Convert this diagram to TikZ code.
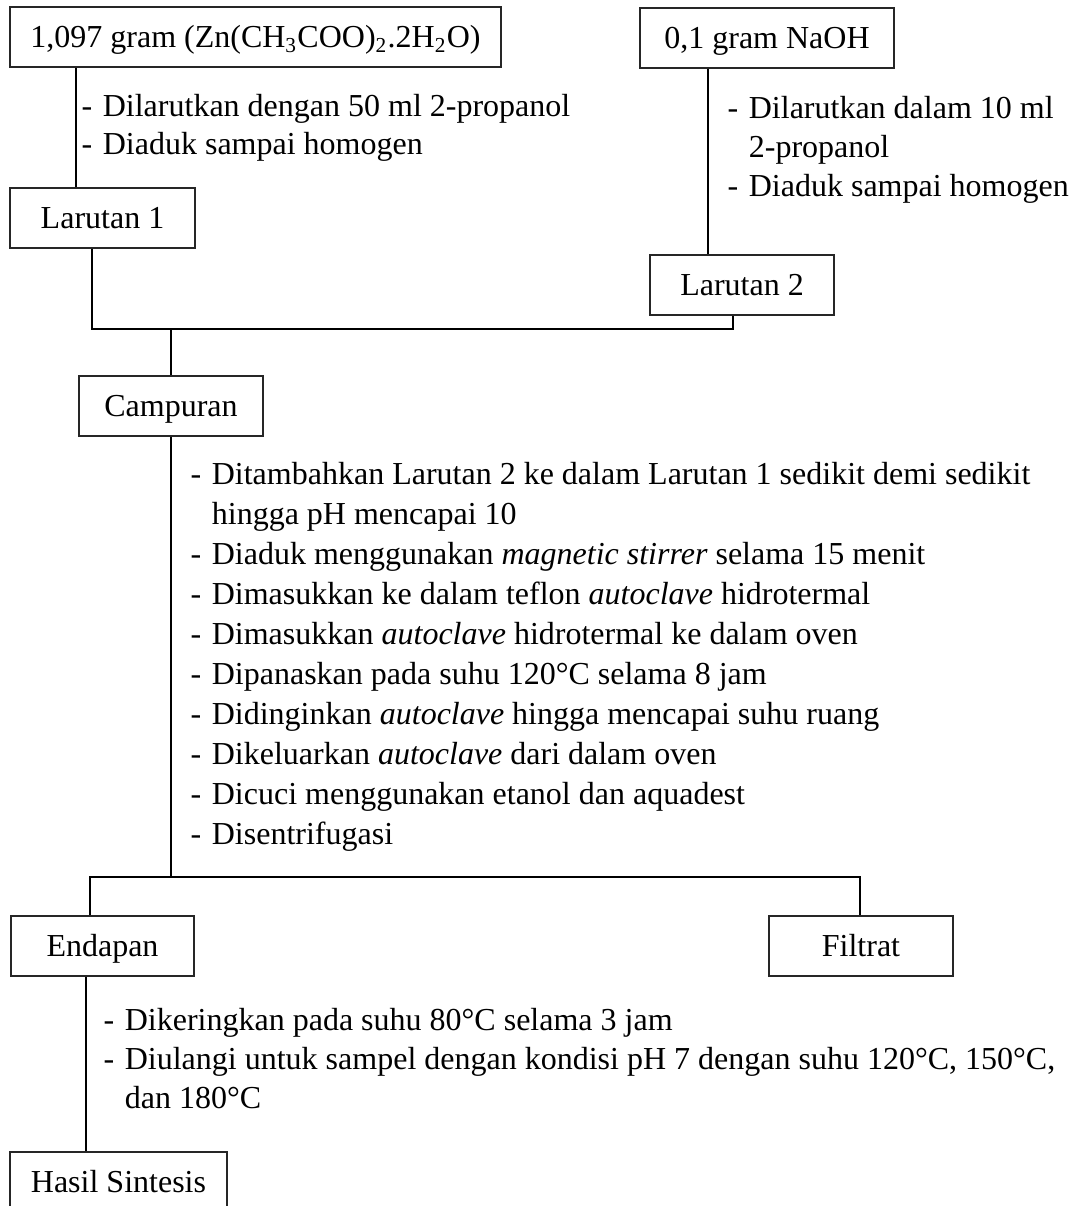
\documentclass[tikz,border=0pt]{standalone}
\usepackage{fontspec}
\setmainfont{Liberation Serif}
\usetikzlibrary{calc}

\def\pxs{0.375pt}
\newcommand\dash{\makebox[8pt][l]{-}}
\newcommand\indt{\makebox[8pt]{}}
\tikzset{
  box/.style={draw=black!85, line width=0.5pt, minimum height=60*\pxs, inner sep=0pt,
    text height=8pt, text depth=0pt, font=\fontsize{12pt}{14pt}\selectfont},
  txt/.style={anchor=base west, inner sep=0pt, font=\fontsize{12pt}{14pt}\selectfont},
  link/.style={black, line width=0.55pt}
}

\begin{document}
\begin{tikzpicture}[x=0.375pt, y=-0.375pt]
\useasboundingbox (0,0) rectangle (1078,1206);
\clip (0,0) rectangle (1078,1206);

% boxes
\node[box, minimum width=491*\pxs] (zinc) at (255.5,37) {1,097 gram (Zn(CH\textsubscript{3}COO)\textsubscript{2}.2H\textsubscript{2}O)};
\node[box, minimum width=254*\pxs] (naoh) at (767,38) {0,1 gram NaOH};
\node[box, minimum width=185*\pxs] (lar1) at (102.5,218) {Larutan 1};
\node[box, minimum width=184*\pxs] (lar2) at (742,285) {Larutan 2};
\node[box, minimum width=184*\pxs] (camp) at (171,406) {Campuran};
\node[box, minimum width=183*\pxs] (endp) at (102.5,946) {Endapan};
\node[box, minimum width=184*\pxs] (filt) at (861,946) {Filtrat};
\node[box, minimum width=217*\pxs] (hasil) at (118.5,1182) {Hasil Sintesis};

% junctions
\coordinate (mixL) at (92,329);
\coordinate (mixR) at (733,329);
\coordinate (sepL) at (90,877);
\coordinate (sepR) at (860,877);

% connectors
\draw[link] (zinc.south -| 76,0) -- (lar1.north -| 76,0);
\draw[link] (naoh.south -| 708,0) -- (lar2.north -| 708,0);
\draw[link] (lar1.south -| mixL) -- (mixL) -- (mixR) -- (lar2.south -| mixR);
\draw[link] (mixL -| camp.north) -- (camp.north);
\draw[link] (camp.south) -- (camp.south |- sepL);
\draw[link] (endp.north -| sepL) -- (sepL) -- (sepR) -- (filt.north -| sepR);
\draw[link] (endp.south -| 86,0) -- (hasil.north -| 86,0);

% steps
\node[txt] (zs1) at (81,116) {\dash Dilarutkan dengan 50 ml 2-propanol};
\node[txt] (zs2) at (81,154) {\dash Diaduk sampai homogen};
\foreach \t [count=\i] in {
  {\dash Dilarutkan dalam 10 ml},
  {\indt 2-propanol},
  {\dash Diaduk sampai homogen}
}{\node[txt] (ns\i) at (727,79+39*\i) {\t};}
\foreach \t [count=\i] in {
  {\dash Ditambahkan Larutan 2 ke dalam Larutan 1 sedikit demi sedikit},
  {\indt hingga pH mencapai 10},
  {\dash Diaduk menggunakan \textit{magnetic stirrer} selama 15 menit},
  {\dash Dimasukkan ke dalam teflon \textit{autoclave} hidrotermal},
  {\dash Dimasukkan \textit{autoclave} hidrotermal ke dalam oven},
  {\dash Dipanaskan pada suhu 120°C selama 8 jam},
  {\dash Didinginkan \textit{autoclave} hingga mencapai suhu ruang},
  {\dash Dikeluarkan \textit{autoclave} dari dalam oven},
  {\dash Dicuci menggunakan etanol dan aquadest},
  {\dash Disentrifugasi}
}{\node[txt] (cs\i) at (190,444+40*\i) {\t};}
\foreach \t [count=\i] in {
  {\dash Dikeringkan pada suhu 80°C selama 3 jam},
  {\dash Diulangi untuk sampel dengan kondisi pH 7 dengan suhu 120°C, 150°C,},
  {\indt dan 180°C}
}{\node[txt] (es\i) at (103,991+39*\i) {\t};}
\end{tikzpicture}
\end{document}
